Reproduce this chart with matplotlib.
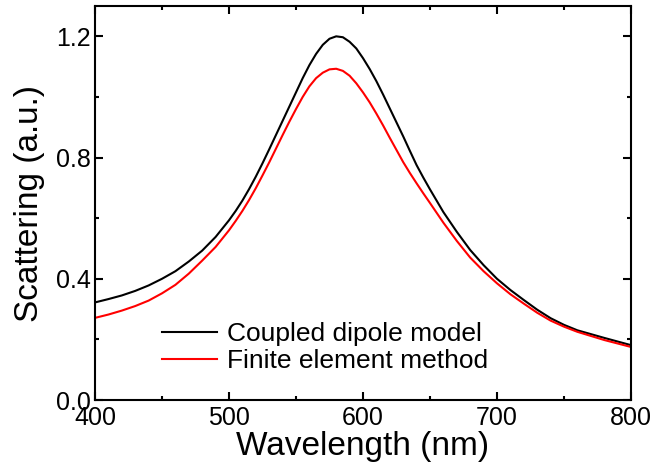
import matplotlib.pyplot as plt
from matplotlib.ticker import MultipleLocator

plt.rcParams['font.family'] = ['Liberation Sans', 'DejaVu Sans']

# values
wavelength = [400, 410, 420, 430, 440, 450, 460, 470, 480, 490, 500, 505, 510,
              515, 520, 525, 530, 535, 540, 545, 550, 555, 560, 565, 570, 575,
              580, 585, 590, 595, 600, 605, 610, 615, 620, 625, 630, 635, 640,
              645, 650, 660, 670, 680, 690, 700, 710, 720, 730, 740, 750, 760,
              780, 800]
coupled_dipole = [0.322, 0.333, 0.345, 0.36, 0.378, 0.40, 0.425, 0.457, 0.493,
                  0.538, 0.593, 0.624, 0.658, 0.696, 0.737, 0.781, 0.827,
                  0.874, 0.921, 0.968, 1.015, 1.062, 1.105, 1.142, 1.172,
                  1.192, 1.200, 1.197, 1.182, 1.16, 1.128, 1.092, 1.052,
                  1.008, 0.962, 0.916, 0.87, 0.822, 0.775, 0.734, 0.695,
                  0.62, 0.555, 0.495, 0.445, 0.40, 0.363, 0.33, 0.298, 0.27,
                  0.248, 0.23, 0.205, 0.181]
finite_element = [0.271, 0.282, 0.295, 0.31, 0.328, 0.352, 0.38, 0.417, 0.46,
                  0.505, 0.56, 0.591, 0.624, 0.66, 0.699, 0.741, 0.784, 0.829,
                  0.874, 0.918, 0.96, 1.0, 1.035, 1.062, 1.08, 1.091, 1.093,
                  1.086, 1.07, 1.045, 1.015, 0.982, 0.945, 0.906, 0.865, 0.825,
                  0.785, 0.749, 0.715, 0.682, 0.65, 0.585, 0.525, 0.47, 0.425,
                  0.385, 0.349, 0.318, 0.288, 0.262, 0.242, 0.225, 0.198, 0.175]

fig = plt.figure(figsize=(6.57, 4.74), dpi=100)
ax = fig.add_axes([0.1446, 0.1561, 0.8158, 0.8312])

ax.plot(wavelength, coupled_dipole, color='black', lw=1.5, label='Coupled dipole model')
ax.plot(wavelength, finite_element, color='red', lw=1.5, label='Finite element method')

ax.set_xlim(400, 800)
ax.set_ylim(0, 1.3)
ax.xaxis.set_major_locator(MultipleLocator(100))
ax.xaxis.set_minor_locator(MultipleLocator(50))
ax.yaxis.set_major_locator(MultipleLocator(0.4))
ax.yaxis.set_minor_locator(MultipleLocator(0.2))
ax.yaxis.set_major_formatter(lambda v, p: f'{v:.1f}')

for s in ax.spines.values():
    s.set_linewidth(1.5)
ax.tick_params(which='both', direction='in', top=True, right=True, width=1.5)
ax.tick_params(which='major', length=6)
ax.tick_params(which='minor', length=3)
ax.tick_params(axis='x', labelsize=18, pad=4)
ax.tick_params(axis='y', labelsize=18, pad=3)

ax.set_xlabel('Wavelength (nm)', fontsize=24, labelpad=1)
ax.set_ylabel('Scattering (a.u.)', fontsize=24, labelpad=8)

ax.legend(loc='center left', bbox_to_anchor=(0.125, 0.133), frameon=False,
          fontsize=19, handlelength=2.1, handletextpad=0.35, labelspacing=0.1,
          borderpad=0, borderaxespad=0)

plt.savefig('out.png', dpi=100)
